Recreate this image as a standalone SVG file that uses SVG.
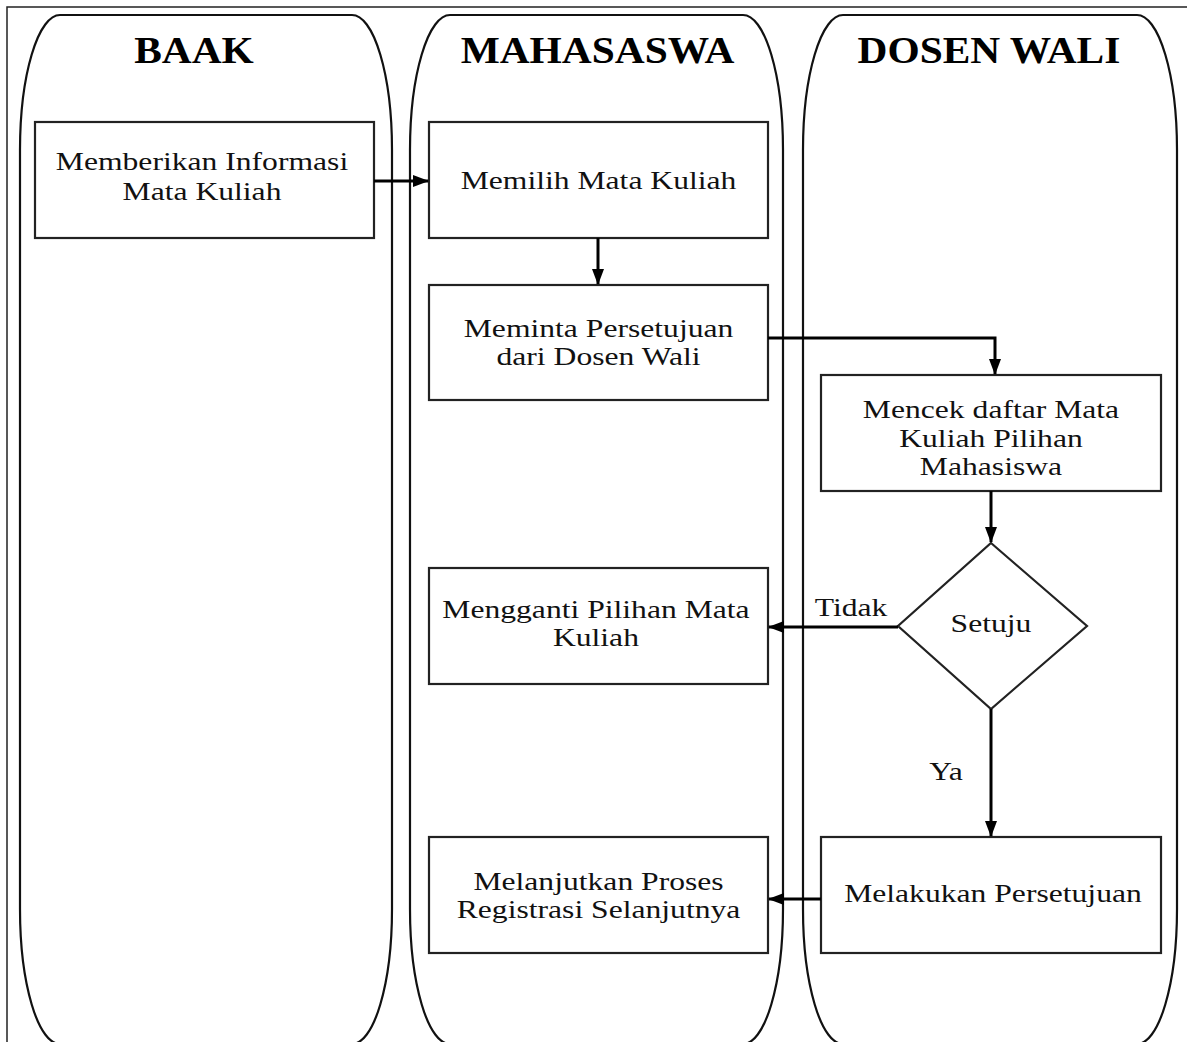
<svg xmlns="http://www.w3.org/2000/svg" width="1187" height="1042" viewBox="0 0 1187 1042">
<style>
.frame{fill:none;stroke:#222;stroke-width:1.5}
.lane{fill:#fff;stroke:#111;stroke-width:2.2}
.box{fill:#fff;stroke:#222;stroke-width:2.2}
.hdr{font-family:"Liberation Serif","Times New Roman",serif;font-weight:bold;font-size:38px;text-anchor:middle;fill:#000}
.t{font-family:"Liberation Serif","Times New Roman",serif;font-size:25.5px;text-anchor:middle;fill:#111}
.con{fill:none;stroke:#000;stroke-width:3}
</style>
<defs>
<marker id="ah" markerUnits="userSpaceOnUse" markerWidth="16" markerHeight="12" refX="15" refY="6" orient="auto">
<path d="M0,0 L16,6 L0,12 z" fill="#000"/>
</marker>
</defs>
<rect width="1187" height="1042" fill="#fff"/>
<rect class="frame" x="7" y="7" width="1200" height="1060"/>
<g id="lane-baak">
<rect class="lane" x="20" y="15" width="372" height="1029" rx="40" ry="135"/>
<text class="hdr" transform="scale(1.09,1)" x="178" y="63">BAAK</text>
</g>
<g id="lane-mahasaswa">
<rect class="lane" x="410" y="15" width="373" height="1029" rx="40" ry="135"/>
<text class="hdr" transform="scale(1.09,1)" x="548.2" y="63">MAHASASWA</text>
</g>
<g id="lane-dosen">
<rect class="lane" x="803" y="15" width="374" height="1029" rx="40" ry="135"/>
<text class="hdr" transform="scale(1.09,1)" x="907.3" y="63">DOSEN WALI</text>
</g>
<g id="n1">
<rect class="box" x="35" y="122" width="339" height="116"/>
<text class="t" transform="scale(1.24,1)"><tspan x="162.9" y="170">Memberikan Informasi</tspan><tspan x="162.9" y="200">Mata Kuliah</tspan></text>
</g>
<g id="n2">
<rect class="box" x="429" y="122" width="339" height="116"/>
<text class="t" transform="scale(1.24,1)" x="482.7" y="189">Memilih Mata Kuliah</text>
</g>
<g id="n3">
<rect class="box" x="429" y="285" width="339" height="115"/>
<text class="t" transform="scale(1.24,1)"><tspan x="482.7" y="337">Meminta Persetujuan</tspan><tspan x="482.7" y="365">dari Dosen Wali</tspan></text>
</g>
<g id="n4">
<rect class="box" x="821" y="375" width="340" height="116"/>
<text class="t" transform="scale(1.24,1)"><tspan x="799.2" y="418">Mencek daftar Mata</tspan><tspan x="799.2" y="447">Kuliah Pilihan</tspan><tspan x="799.2" y="475">Mahasiswa</tspan></text>
</g>
<g id="n5">
<polygon class="box" points="991,543 1087,626 991,709 898,626"/>
<text class="t" transform="scale(1.24,1)" x="799.2" y="632">Setuju</text>
</g>
<g id="n6">
<rect class="box" x="429" y="568" width="339" height="116"/>
<text class="t" transform="scale(1.24,1)"><tspan x="480.6" y="618">Mengganti Pilihan Mata</tspan><tspan x="480.6" y="646">Kuliah</tspan></text>
</g>
<g id="n7">
<rect class="box" x="821" y="837" width="340" height="116"/>
<text class="t" transform="scale(1.24,1)" x="800.8" y="902">Melakukan Persetujuan</text>
</g>
<g id="n8">
<rect class="box" x="429" y="837" width="339" height="116"/>
<text class="t" transform="scale(1.24,1)"><tspan x="482.7" y="890">Melanjutkan Proses</tspan><tspan x="482.7" y="918">Registrasi Selanjutnya</tspan></text>
</g>
<g id="connectors">
<path class="con" d="M374,181 H428" marker-end="url(#ah)"/>
<path class="con" d="M598,238 V284" marker-end="url(#ah)"/>
<path class="con" d="M768,338 H995 V374" marker-end="url(#ah)"/>
<path class="con" d="M991,491 V542" marker-end="url(#ah)"/>
<path class="con" d="M898,627 H769" marker-end="url(#ah)"/>
<path class="con" d="M991,709 V836" marker-end="url(#ah)"/>
<path class="con" d="M821,899 H769" marker-end="url(#ah)"/>
<text class="t" transform="scale(1.24,1)" x="686.3" y="616">Tidak</text>
<text class="t" transform="scale(1.24,1)" x="762.9" y="780">Ya</text>
</g>
</svg>
